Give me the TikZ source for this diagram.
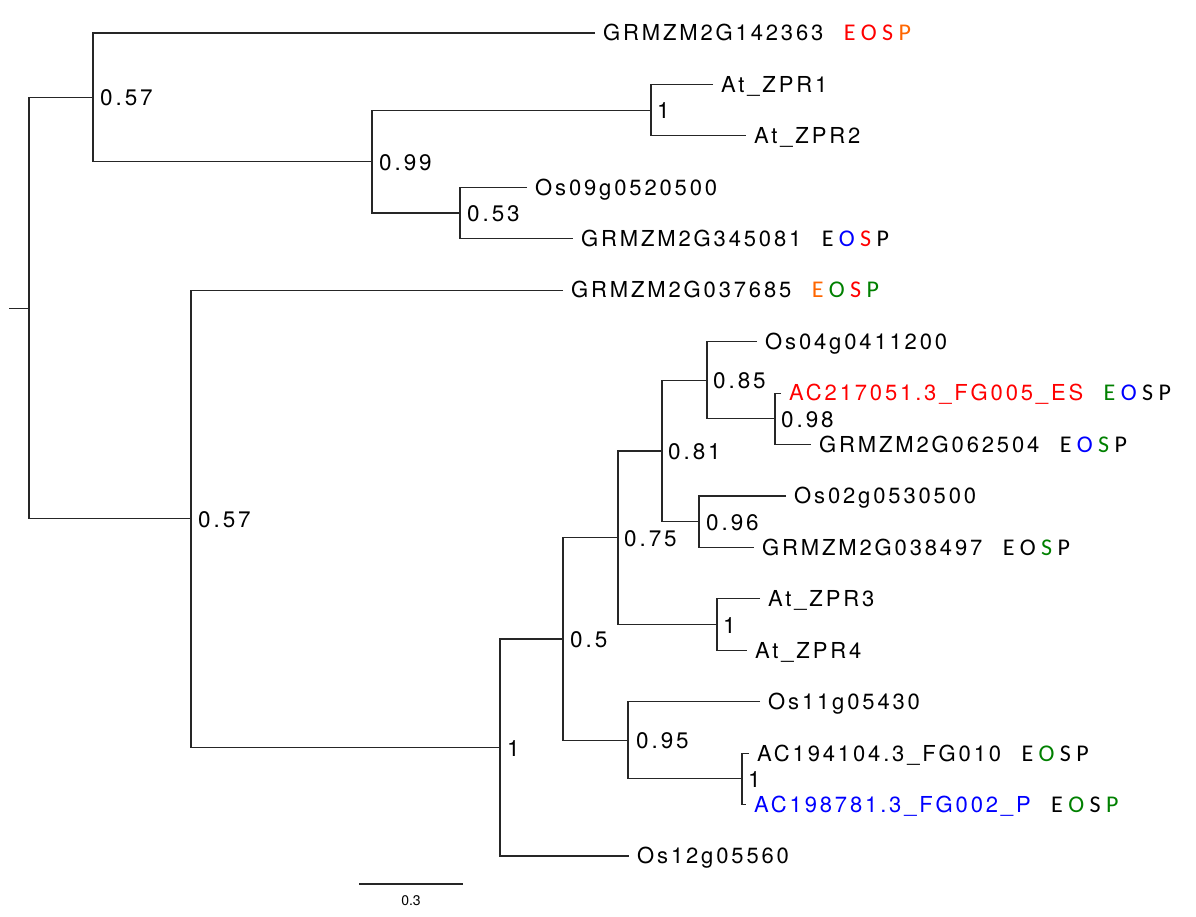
\documentclass[tikz,border=0pt]{standalone}
\usepackage{fontspec}
\setmainfont{TeX Gyre Heros}
\newfontfamily\leaffont{TeX Gyre Heros}[LetterSpace=13]
\newfontfamily\suppfont{TeX Gyre Heros}[LetterSpace=13]
\newfontfamily\eospfont{Carlito}
\definecolor{rd}{RGB}{255,0,0}
\definecolor{orng}{RGB}{255,102,0}
\definecolor{grn}{RGB}{0,128,0}
\definecolor{blu}{RGB}{0,0,255}
\begin{document}
\begin{tikzpicture}[x=1pt,y=-1pt,
  branch/.style={line width=1.1pt, black!85},
  leaflabel/.style={anchor=base west, inner sep=0pt, font=\leaffont\fontsize{22}{26}\selectfont},
  support/.style={anchor=base west, inner sep=0pt, font=\suppfont\fontsize{22.5}{26}\selectfont},
  eosp/.style={anchor=base west, inner sep=0pt, font=\eospfont\fontsize{24}{28}\selectfont}]
\useasboundingbox (0,0) rectangle (1196,917);
% leaf ends
\coordinate (l0) at (595,33);
\coordinate (l1) at (713,84.4);
\coordinate (l2) at (746,135.9);
\coordinate (l3) at (527,187.3);
\coordinate (l4) at (573,238.8);
\coordinate (l5) at (563,290.2);
\coordinate (l6) at (757,341.6);
\coordinate (l7) at (781,393.1);
\coordinate (l8) at (811,444.5);
\coordinate (l9) at (786,496);
\coordinate (l10) at (754,547.4);
\coordinate (l11) at (760,598.8);
\coordinate (l12) at (747,650.3);
\coordinate (l13) at (760,701.7);
\coordinate (l14) at (749,753.2);
\coordinate (l15) at (746,804.6);
\coordinate (l16) at (629,856);
% internal nodes
\coordinate (C) at (651,110.15);
\coordinate (D) at (460,213.05);
\coordinate (B) at (372,161.6);
\coordinate (A) at (93,97.3);
\coordinate (K) at (775,418.8);
\coordinate (J) at (707,380.2);
\coordinate (L) at (699,521.7);
\coordinate (I) at (662,451);
\coordinate (M) at (717,624.55);
\coordinate (H) at (618,537.8);
\coordinate (O) at (742,778.9);
\coordinate (N) at (628,740.3);
\coordinate (G) at (563,639);
\coordinate (F) at (500,747.5);
\coordinate (E) at (191,518.9);
\coordinate (R) at (29,308.1);
\coordinate (stub) at (9,308.1);
% branches
\draw[branch] (stub) -- (R);
\draw[branch] (A) -| (R) |- (E);
\draw[branch] (l0) -| (A) |- (B);
\draw[branch] (C) -| (B) |- (D);
\draw[branch] (l1) -| (C) |- (l2);
\draw[branch] (l3) -| (D) |- (l4);
\draw[branch] (l5) -| (E) |- (F);
\draw[branch] (G) -| (F) |- (l16);
\draw[branch] (H) -| (G) |- (N);
\draw[branch] (I) -| (H) |- (M);
\draw[branch] (J) -| (I) |- (L);
\draw[branch] (l6) -| (J) |- (K);
\draw[branch] (l7) -| (K) |- (l8);
\draw[branch] (l9) -| (L) |- (l10);
\draw[branch] (l11) -| (M) |- (l12);
\draw[branch] (l13) -| (N) |- (O);
\draw[branch] (l14) -| (O) |- (l15);
% leaf labels
\node[leaflabel] (t0) at ([shift={(8,7.8)}]l0) {GRMZM2G142363};
\node[leaflabel] (t1) at ([shift={(8,7.8)}]l1) {At\_ZPR1};
\node[leaflabel] (t2) at ([shift={(8,7.8)}]l2) {At\_ZPR2};
\node[leaflabel] (t3) at ([shift={(8,7.8)}]l3) {Os09g0520500};
\node[leaflabel] (t4) at ([shift={(8,7.8)}]l4) {GRMZM2G345081};
\node[leaflabel] (t5) at ([shift={(8,7.8)}]l5) {GRMZM2G037685};
\node[leaflabel] (t6) at ([shift={(8,7.8)}]l6) {Os04g0411200};
\node[leaflabel, text=rd] (t7) at ([shift={(8,7.8)}]l7) {AC217051.3\_FG005\_ES};
\node[leaflabel] (t8) at ([shift={(8,7.8)}]l8) {GRMZM2G062504};
\node[leaflabel] (t9) at ([shift={(8,7.8)}]l9) {Os02g0530500};
\node[leaflabel] (t10) at ([shift={(8,7.8)}]l10) {GRMZM2G038497};
\node[leaflabel] (t11) at ([shift={(8,7.8)}]l11) {At\_ZPR3};
\node[leaflabel] (t12) at ([shift={(8,7.8)}]l12) {At\_ZPR4};
\node[leaflabel] (t13) at ([shift={(8,7.8)}]l13) {Os11g05430};
\node[leaflabel] (t14) at ([shift={(8,7.8)}]l14) {AC194104.3\_FG010};
\node[leaflabel, text=blu] (t15) at ([shift={(8,7.8)}]l15) {AC198781.3\_FG002\_P};
\node[leaflabel] (t16) at ([shift={(8,7.8)}]l16) {Os12g05560};
% EOSP annotations
\node[eosp] (e0) at ([xshift=20]t0.base east) {\textcolor{rd}{E} \textcolor{rd}{O} \textcolor{rd}{S} \textcolor{orng}{P}};
\node[eosp] (e4) at ([xshift=20]t4.base east) {E \textcolor{blu}{O} \textcolor{rd}{S} P};
\node[eosp] (e5) at ([xshift=20]t5.base east) {\textcolor{orng}{E} \textcolor{grn}{O} \textcolor{rd}{S} \textcolor{grn}{P}};
\node[eosp] (e7) at ([xshift=20]t7.base east) {\textcolor{grn}{E} \textcolor{blu}{O} S P};
\node[eosp] (e8) at ([xshift=20]t8.base east) {E \textcolor{blu}{O} \textcolor{grn}{S} P};
\node[eosp] (e10) at ([xshift=20]t10.base east) {E O \textcolor{grn}{S} P};
\node[eosp] (e14) at ([xshift=20]t14.base east) {E \textcolor{grn}{O} S P};
\node[eosp] (e15) at ([xshift=20]t15.base east) {E \textcolor{grn}{O} S \textcolor{grn}{P}};
% support values
\node[support] (sA) at ([shift={(7,8.5)}]A) {0.57};
\node[support] (sB) at ([shift={(7,8.5)}]B) {0.99};
\node[support] (sC) at ([shift={(6,8.5)}]C) {1};
\node[support] (sD) at ([shift={(7,8.5)}]D) {0.53};
\node[support] (sE) at ([shift={(7,8.5)}]E) {0.57};
\node[support] (sF) at ([shift={(7,8.5)}]F) {1};
\node[support] (sG) at ([shift={(7,8.5)}]G) {0.5};
\node[support] (sH) at ([shift={(6,8.5)}]H) {0.75};
\node[support] (sI) at ([shift={(6,8.5)}]I) {0.81};
\node[support] (sJ) at ([shift={(6,8.5)}]J) {0.85};
\node[support] (sK) at ([shift={(6,8.5)}]K) {0.98};
\node[support] (sL) at ([shift={(7,8.5)}]L) {0.96};
\node[support] (sM) at ([shift={(6,8.5)}]M) {1};
\node[support] (sN) at ([shift={(8,8.5)}]N) {0.95};
\node[support] (sO) at ([shift={(6,8.5)}]O) {1};
% scale bar
\coordinate (sb1) at (359,884);
\coordinate (sb2) at (463,884);
\draw[branch] (sb1) -- (sb2);
\node[inner sep=0pt, anchor=base, font=\fontsize{14}{16}\selectfont] (sbl) at (411,905) {0.3};
\end{tikzpicture}
\end{document}
